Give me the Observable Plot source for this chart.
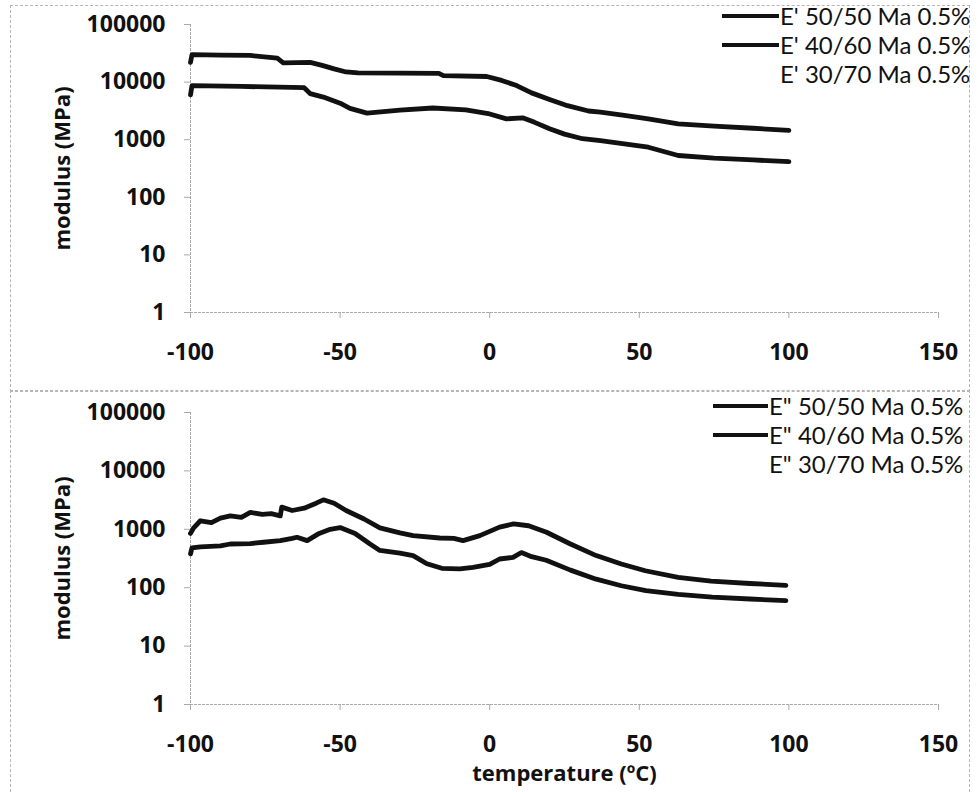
<!DOCTYPE html>
<html>
<head>
<meta charset="utf-8">
<script src="https://cdn.jsdelivr.net/npm/d3@7"></script>
<script src="https://cdn.jsdelivr.net/npm/@observablehq/plot@0.6"></script>
<style>
  html, body { margin: 0; padding: 0; background: #fff; }
  #wrap { position: relative; width: 978px; height: 792px; overflow: hidden; font-family: "Open Sans", sans-serif; }
  .panel { position: absolute; left: 0; }
  .frame { position: absolute; border: 1px dashed #b5b5b5; }
  .leg { position: absolute; font-family: Lato, "Open Sans", sans-serif; font-size: 24px; color: #111; white-space: nowrap; line-height: 24px; height: 24px; }
  .legline { position: absolute; height: 4px; background: #111; }
</style>
</head>
<body>
<div id="wrap"></div>
<script>
// ---- axis ticks ----
const xTicks = [-100, -50, 0, 50, 100, 150];
const yTicks = [1, 10, 100, 1000, 10000, 100000];

// ---- legend labels ----
const topLabels = ["E' 50/50 Ma 0.5%", "E' 40/60 Ma 0.5%", "E' 30/70 Ma 0.5%"];
const bottomLabels = ["E\" 50/50 Ma 0.5%", "E\" 40/60 Ma 0.5%", "E\" 30/70 Ma 0.5%"];

// ---- storage modulus E' ----
const eStoreATemp = [-100, -99.5, -90, -80, -71, -69, -60, -56, -52, -48, -44, -30, -17, -15.5, -1, 4, 9, 14, 20, 26, 33, 37, 45, 53, 63, 75, 88, 100];
const eStoreAVal  = [22000, 30000, 29500, 29000, 26000, 21500, 22000, 19500, 17000, 15000, 14500, 14300, 14200, 13000, 12500, 10700, 8700, 6500, 5000, 3900, 3150, 3000, 2650, 2300, 1890, 1720, 1580, 1450];
const eStoreBTemp = [-100, -99.5, -83, -62, -60, -55.6, -50, -46.7, -41, -30, -19, -8, 0, 5.6, 11, 15, 20, 25, 31, 37, 45, 53, 63, 75, 88, 100];
const eStoreBVal  = [6000, 8700, 8400, 8000, 6300, 5500, 4300, 3500, 2900, 3250, 3550, 3300, 2800, 2300, 2400, 2000, 1550, 1250, 1040, 960, 850, 740, 532, 480, 445, 415];
const eStoreCTemp = [];
const eStoreCVal  = [];

// ---- loss modulus E" ----
const eLossATemp = [-100, -99, -96.7, -93, -90, -86.7, -83, -80, -76, -73, -70, -69.5, -66, -62, -58, -55.6, -52, -48, -42, -36.7, -30, -25.6, -16.7, -12, -8.9, -3.3, 3.3, 8, 13, 19, 27, 35.6, 44, 52, 63, 74, 87, 99];
const eLossAVal  = [850, 1050, 1400, 1300, 1550, 1700, 1600, 1950, 1800, 1850, 1700, 2400, 2100, 2300, 2800, 3200, 2800, 2100, 1500, 1060, 870, 780, 710, 700, 640, 780, 1090, 1240, 1150, 890, 560, 355, 255, 195, 150, 130, 118, 110];
const eLossBTemp = [-100, -99.5, -96.7, -90, -86.7, -80, -75.6, -70, -66, -64.4, -61, -57, -53.3, -50, -45, -40, -36.7, -30, -25.6, -21, -16, -10, -5.6, 0, 3.3, 7.8, 10.6, 14, 18.9, 27, 35.6, 44, 52.2, 63, 74.4, 87, 99];
const eLossBVal  = [380, 480, 500, 520, 560, 570, 600, 640, 700, 730, 640, 850, 1000, 1070, 850, 560, 435, 390, 355, 257, 215, 210, 222, 250, 310, 330, 400, 340, 295, 200, 140, 108, 89, 77, 69, 64, 60];
const eLossCTemp = [];
const eLossCVal  = [];

const toRows = (t, v) => t.map((d, i) => ({T: d, v: v[i]}));

function makePanel({height, marginTop, marginBottom, series, xTitle}) {
  const marks = [
    Plot.ruleY([1], {stroke: "#a8a8a8", strokeWidth: 1, strokeDasharray: "3,1"}),
    Plot.ruleX([-100], {stroke: "#a8a8a8", strokeWidth: 1, strokeDasharray: "3,1"}),
    Plot.axisX({ticks: xTicks, tickSize: 6, tickPadding: 25, stroke: "#a8a8a8", tickFormat: d => String(d), label: null}),
    Plot.axisY({ticks: yTicks, tickSize: 6, tickPadding: 19, stroke: "#a8a8a8", tickFormat: d => String(d), label: null}),
    ...series.map(s => Plot.line(toRows(s[0], s[1]), {x: "T", y: "v", stroke: "#111", strokeWidth: 4.8, strokeLinejoin: "round", strokeLinecap: "round"})),
    Plot.text(["modulus (MPa)"], {frameAnchor: "left", dx: -128, rotate: -90, textAnchor: "middle", lineAnchor: "middle", fontSize: 22, fontWeight: 700, fill: "#111"})
  ];
  if (xTitle) {
    marks.push(Plot.text([xTitle], {frameAnchor: "bottom", dy: 69, textAnchor: "middle", lineAnchor: "middle", fontSize: 22, fontWeight: 700, fill: "#111"}));
  }
  return Plot.plot({
    width: 978,
    height,
    marginLeft: 190,
    marginRight: 40,
    marginTop,
    marginBottom,
    style: {fontFamily: "Open Sans", fontSize: "23px", fontWeight: 700, color: "#111", background: "transparent", overflow: "visible"},
    x: {domain: [-100, 150]},
    y: {type: "log", domain: [1, 100000]},
    marks
  });
}

const wrap = document.getElementById("wrap");

// outer frame and separator
const f1 = document.createElement("div");
f1.className = "frame";
Object.assign(f1.style, {left: "10px", top: "5px", width: "958px", height: "385px"});
wrap.appendChild(f1);
const f2 = document.createElement("div");
f2.className = "frame";
Object.assign(f2.style, {left: "10px", top: "390px", width: "958px", height: "420px"});
wrap.appendChild(f2);

const topPanel = makePanel({
  height: 390, marginTop: 24, marginBottom: 78,
  series: [[eStoreATemp, eStoreAVal], [eStoreBTemp, eStoreBVal], [eStoreCTemp, eStoreCVal]]
});
topPanel.classList.add("panel");
topPanel.style.top = "0px";
wrap.appendChild(topPanel);

const bottomPanel = makePanel({
  height: 402, marginTop: 22, marginBottom: 88,
  series: [[eLossATemp, eLossAVal], [eLossBTemp, eLossBVal], [eLossCTemp, eLossCVal]],
  xTitle: "temperature (\u00BAC)"
});
bottomPanel.classList.add("panel");
bottomPanel.style.top = "390px";
wrap.appendChild(bottomPanel);

// legends
function legend(labels, x0, x1, textX, ys, hasLine) {
  labels.forEach((lab, i) => {
    if (hasLine[i]) {
      const l = document.createElement("div");
      l.className = "legline";
      Object.assign(l.style, {left: x0 + "px", width: (x1 - x0) + "px", top: (ys[i] - 2) + "px"});
      wrap.appendChild(l);
    }
    const t = document.createElement("div");
    t.className = "leg";
    t.textContent = lab;
    Object.assign(t.style, {left: textX + "px", top: (ys[i] - 12) + "px"});
    wrap.appendChild(t);
  });
}
legend(topLabels, 722, 779, 780, [16, 45, 74], [true, true, false]);
legend(bottomLabels, 713, 768, 769, [406, 435, 464], [true, true, false]);
</script>
</body>
</html>
